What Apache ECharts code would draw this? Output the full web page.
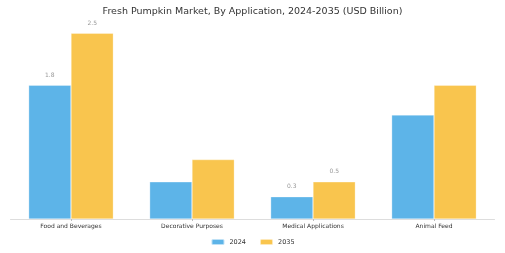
<!DOCTYPE html>
<html>
<head>
<meta charset="utf-8">
<script src="https://cdn.jsdelivr.net/npm/echarts@6/dist/echarts.min.js"></script>
<style>
  html, body { margin: 0; padding: 0; background: #fff; }
  #chart { width: 505px; height: 253px; }
</style>
</head>
<body>
<div id="chart"></div>
<script>
const categories = ["Food and Beverages", "Decorative Purposes", "Medical Applications", "Animal Feed"];
const values2024 = [1.8, 0.5, 0.3, 1.4];
const values2035 = [2.5, 0.8, 0.5, 1.8];
// only some bars carry a value label in the reference
const labeled2024 = [true, false, true, false];
const labeled2035 = [true, false, true, false];

const chart = echarts.init(document.getElementById("chart"));

function withLabels(values, flags) {
  return values.map((v, i) => ({
    value: v,
    label: { show: flags[i] }
  }));
}

const labelStyle = {
  position: "top",
  color: "#999",
  fontSize: 6,
  distance: 7,
  fontFamily: "DejaVu Sans"
};

chart.setOption({
  backgroundColor: "#fff",
  animation: false,
  title: {
    text: "Fresh Pumpkin Market, By Application, 2024-2035 (USD Billion)",
    left: "center",
    top: 2,
    textStyle: { fontSize: 9.5, fontWeight: "normal", color: "#333", fontFamily: "DejaVu Sans" }
  },
  legend: {
    data: ["2024", "2035"],
    bottom: 2,
    left: "center",
    itemWidth: 13,
    itemHeight: 6,
    itemGap: 13,
    textStyle: { fontSize: 6.5, color: "#333", fontFamily: "DejaVu Sans" }
  },
  grid: { left: 10.5, right: 10.5, top: 18.4, bottom: 34 },
  xAxis: {
    type: "category",
    data: categories,
    axisTick: { show: true, alignWithLabel: true, length: 2, lineStyle: { color: "#bbb" } },
    axisLine: { lineStyle: { color: "#ddd" } },
    axisLabel: { fontSize: 6, color: "#333", margin: 4, fontFamily: "DejaVu Sans" }
  },
  yAxis: {
    type: "value",
    min: 0,
    max: 2.7,
    show: false,
    splitLine: { show: false }
  },
  series: [
    {
      name: "2024",
      type: "bar",
      data: withLabels(values2024, labeled2024),
      barCategoryGap: "30%",
      barGap: "0%",
      itemStyle: { color: "#5DB4E8", borderColor: "rgba(255,255,255,0.6)", borderWidth: 0.5 },
      label: labelStyle
    },
    {
      name: "2035",
      type: "bar",
      data: withLabels(values2035, labeled2035),
      itemStyle: { color: "#F9C54E", borderColor: "rgba(255,255,255,0.6)", borderWidth: 0.5 },
      label: labelStyle
    }
  ]
});
</script>
</body>
</html>
